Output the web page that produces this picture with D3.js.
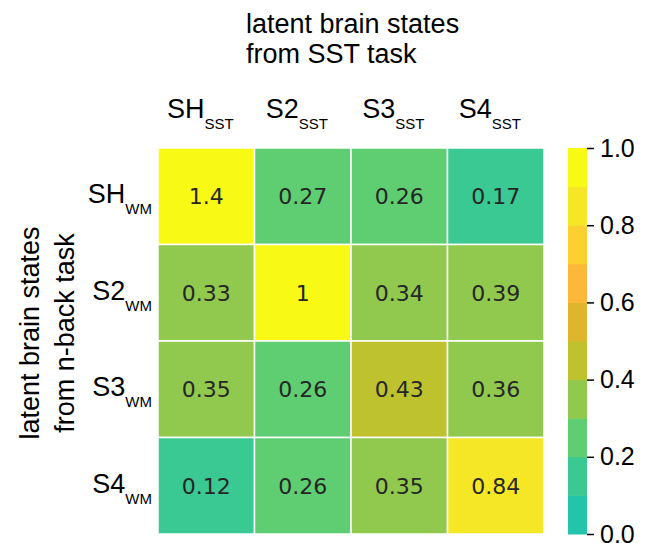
<!DOCTYPE html>
<html><head><meta charset="utf-8">
<script src="https://cdn.jsdelivr.net/npm/d3@7"></script>
<style>body{margin:0;background:#fff}svg{display:block}</style>
</head><body>
<script>
const colLabels = ["SH", "S2", "S3", "S4"];
const colSub = "SST";
const rowLabels = ["SH", "S2", "S3", "S4"];
const rowSub = "WM";
const values = [
  [1.4, 0.27, 0.26, 0.17],
  [0.33, 1, 0.34, 0.39],
  [0.35, 0.26, 0.43, 0.36],
  [0.12, 0.26, 0.35, 0.84]
];
const colorThresholds = [0.1,0.2,0.3,0.4,0.5,0.6,0.7,0.8,0.9];
const colorBands = ["#24c4aa","#3ac893","#5fce72","#90c94e","#bfc22f","#e0b52e","#fdb83a","#fcd030","#f5e626","#f9f916"];
const cbarTicks = [0.0,0.2,0.4,0.6,0.8,1.0];
const titleLines = ["latent brain states","from SST task"];
const yTitleLines = ["latent brain states","from n-back task"];

const W = 657, H = 543;
const svg = d3.select("body").append("svg").attr("width", W).attr("height", H);
const mLeft = 158, mTop = 148, size = 386;
const x = d3.scaleBand().domain(d3.range(4)).range([mLeft, mLeft+size]);
const y = d3.scaleBand().domain(d3.range(4)).range([mTop, mTop+size]);
const color = d3.scaleThreshold().domain(colorThresholds).range(colorBands);

const cells = [];
values.forEach((row,i)=>row.forEach((v,j)=>cells.push({i,j,v})));
svg.append("g").selectAll("rect").data(cells).join("rect")
  .attr("x", d=>x(d.j)).attr("y", d=>y(d.i))
  .attr("width", x.bandwidth()).attr("height", y.bandwidth())
  .attr("fill", d=>color(d.v)).attr("stroke","#fff").attr("stroke-width",1.5);
svg.append("g").selectAll("text").data(cells).join("text")
  .attr("x", d=>x(d.j)+x.bandwidth()/2).attr("y", d=>y(d.i)+y.bandwidth()/2+8)
  .attr("text-anchor","middle").attr("font-family","DejaVu Sans").attr("font-size",22)
  .attr("fill","#262626").text(d=>String(d.v));

const sans = "Liberation Sans, Arial, sans-serif";
colLabels.forEach((l,j)=>{
  const t = svg.append("text").attr("x", x(j)+x.bandwidth()/2-6).attr("y", 118)
    .attr("text-anchor","middle").attr("font-family",sans).attr("font-size",27).attr("fill","#000");
  t.append("tspan").text(l);
  t.append("tspan").attr("font-size",15).attr("dy",11).text(colSub);
});
rowLabels.forEach((l,i)=>{
  const t = svg.append("text").attr("x", 152).attr("y", y(i)+y.bandwidth()/2+7)
    .attr("text-anchor","end").attr("font-family",sans).attr("font-size",27).attr("fill","#000");
  t.append("tspan").text(l);
  t.append("tspan").attr("font-size",15).attr("dy",11).text(rowSub);
});
titleLines.forEach((l,k)=>{
  svg.append("text").attr("x",246).attr("y",33+k*30).attr("font-family",sans).attr("font-size",27)
    .attr("fill","#000").text(l);
});
yTitleLines.forEach((l,k)=>{
  svg.append("text").attr("transform",`translate(${39+k*35},${333}) rotate(-90)`)
    .attr("text-anchor","middle").attr("font-family",sans).attr("font-size",27)
    .attr("fill","#000").text(l);
});
const cbX = 568, cbW = 19;
const cy = d3.scaleLinear().domain([0,1]).range([mTop+size, mTop]);
const bands = colorBands.map((c,k)=>({c, lo:k/10, hi:(k+1)/10}));
svg.append("g").selectAll("rect").data(bands).join("rect")
  .attr("x",cbX).attr("width",cbW).attr("y",d=>cy(d.hi)).attr("height",d=>cy(d.lo)-cy(d.hi)+0.5)
  .attr("fill",d=>d.c);
const axis = d3.axisRight(cy).tickValues(cbarTicks).tickFormat(d3.format(".1f")).tickSize(7).tickPadding(6);
const ag = svg.append("g").attr("transform",`translate(${cbX+cbW},0)`).call(axis);
ag.select(".domain").remove();
ag.selectAll("line").attr("stroke","#000").attr("stroke-width",1.5);
ag.selectAll("text").attr("font-family",sans).attr("font-size",25).attr("fill","#000");
</script>
</body></html>
